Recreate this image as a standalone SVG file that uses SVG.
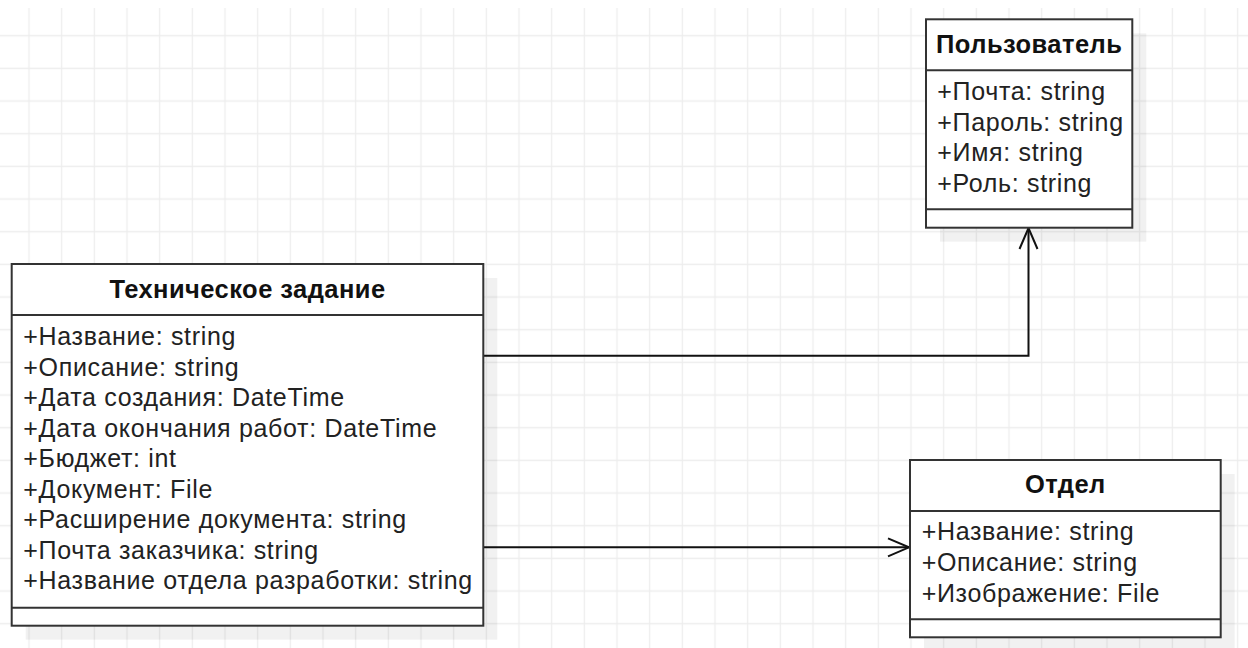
<svg xmlns="http://www.w3.org/2000/svg" width="1248" height="648" viewBox="0 0 1248 648">
<style>
.box{fill:#fff;stroke:#333;stroke-width:2}
.sh{fill:#000;fill-opacity:0.055}
.sep{stroke:#333;stroke-width:2}
.hd{font-family:"Liberation Sans",Arial,sans-serif;font-weight:bold;font-size:25.5px;fill:#111;text-anchor:middle;letter-spacing:0.45px}
.at{font-family:"Liberation Sans",Arial,sans-serif;font-size:25px;fill:#222;letter-spacing:0.67px}
.con{fill:none;stroke:#111;stroke-width:2}
</style>
<defs>
<pattern id="grid" patternUnits="userSpaceOnUse" x="12.667" y="19.367" width="32.667" height="32.667">
<path d="M16.333 0V32.667M0 16.333H32.667" stroke="#ededed" stroke-width="1.3" fill="none"/>
</pattern>
<marker id="open" markerUnits="userSpaceOnUse" viewBox="-24 -12 28 24" markerWidth="28" markerHeight="24" refX="0" refY="0" orient="auto">
<path d="M-21,-9 L0,0 L-21,9" fill="none" stroke="#111" stroke-width="2"/>
</marker>
</defs>
<rect width="1248" height="648" fill="#fff"/>
<rect y="8" width="1248" height="640" fill="url(#grid)"/>

<g id="connectors">
<path class="con" d="M483,355.7 H1028.5 V228" marker-end="url(#open)"/>
<path class="con" d="M483,547.3 H909" marker-end="url(#open)"/>
</g>

<g id="tz">
<rect class="sh" x="25.7" y="278" width="471.6" height="361.7"/>
<rect class="box" x="11.7" y="264" width="471.6" height="361.7"/>
<line class="sep" x1="11.7" y1="315" x2="483.3" y2="315"/>
<line class="sep" x1="11.7" y1="607.7" x2="483.3" y2="607.7"/>
<text class="hd" x="247.5" y="298.3">Техническое задание</text>
<text class="at" x="23.3" y="345">+Название: string</text>
<text class="at" x="23.3" y="375.5">+Описание: string</text>
<text class="at" x="23.3" y="406">+Дата создания: DateTime</text>
<text class="at" x="23.3" y="436.5">+Дата окончания работ: DateTime</text>
<text class="at" x="23.3" y="467">+Бюджет: int</text>
<text class="at" x="23.3" y="497.5">+Документ: File</text>
<text class="at" x="23.3" y="528">+Расширение документа: string</text>
<text class="at" x="23.3" y="558.5">+Почта заказчика: string</text>
<text class="at" x="23.3" y="589">+Название отдела разработки: string</text>
</g>

<g id="user">
<rect class="sh" x="940" y="33.3" width="206.3" height="208.4"/>
<rect class="box" x="926" y="19.3" width="206.3" height="208.4"/>
<line class="sep" x1="926" y1="70.3" x2="1132.3" y2="70.3"/>
<line class="sep" x1="926" y1="209.3" x2="1132.3" y2="209.3"/>
<text class="hd" x="1029.2" y="53.3">Пользователь</text>
<text class="at" x="937.3" y="100">+Почта: string</text>
<text class="at" x="937.3" y="130.5">+Пароль: string</text>
<text class="at" x="937.3" y="161">+Имя: string</text>
<text class="at" x="937.3" y="191.5">+Роль: string</text>
</g>

<g id="dept">
<rect class="sh" x="924" y="474" width="310.7" height="177.3"/>
<rect class="box" x="910" y="460" width="310.7" height="177.3"/>
<line class="sep" x1="910" y1="511" x2="1220.7" y2="511"/>
<line class="sep" x1="910" y1="619.3" x2="1220.7" y2="619.3"/>
<text class="hd" x="1065.3" y="493.3">Отдел</text>
<text class="at" x="921.7" y="540">+Название: string</text>
<text class="at" x="921.7" y="570.7">+Описание: string</text>
<text class="at" x="921.7" y="601.5">+Изображение: File</text>
</g>
</svg>
